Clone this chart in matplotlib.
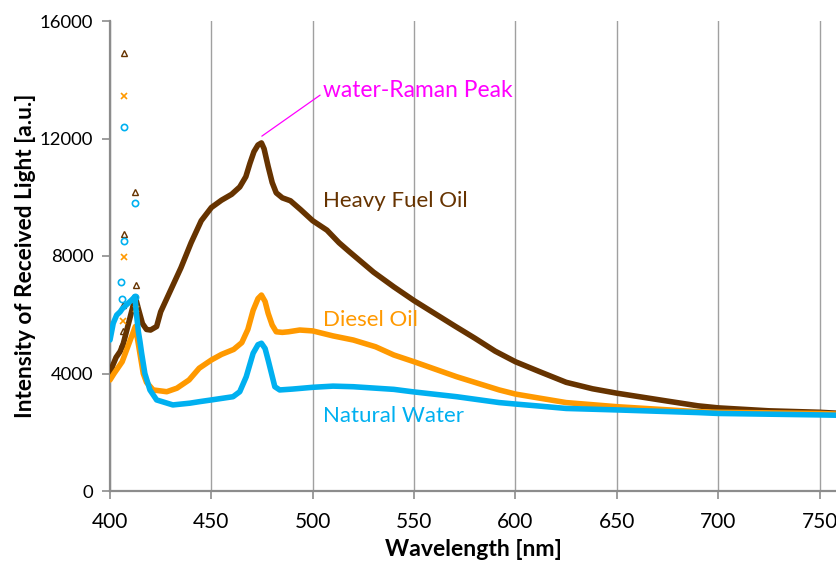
import matplotlib
matplotlib.use("Agg")
import matplotlib.pyplot as plt

plt.rcParams['font.family'] = ['Lato', 'DejaVu Sans']

# ---- data ----
hfo_wl = [400, 401.5, 403, 405, 406.5, 412.5, 414, 416, 418, 420, 423, 425, 430, 435, 440,
          445, 450, 455, 460, 464, 467, 469, 471, 473, 474.7, 476, 478, 480, 482, 485, 489, 494,
          500, 507, 513, 518, 530, 540, 550, 560, 570, 580, 590, 600, 612, 625, 638, 650, 675,
          690, 700, 725, 750, 758]
hfo_val = [4000, 4300, 4550, 4750, 5000, 6600, 6200, 5700, 5500, 5480, 5600, 6100, 6850, 7600, 8450,
           9200, 9650, 9900, 10100, 10350, 10700, 11150, 11550, 11780, 11850, 11650, 11050, 10500, 10150, 9980, 9880, 9580,
           9200, 8880, 8450, 8150, 7450, 6950, 6480, 6050, 5620, 5200, 4760, 4400, 4060, 3700, 3480, 3330, 3060,
           2900, 2830, 2730, 2680, 2650]

diesel_wl = [400, 402, 404, 406, 412.5, 414, 416.4, 418, 421.3, 428, 433, 439, 444, 450, 455, 461,
             465, 468, 470.6, 473, 474.7, 476.5, 478, 480, 482, 485, 488, 493.6, 500, 510, 520, 531, 540, 550, 571, 592, 600,
             612, 625, 650, 690, 700, 750, 758]
diesel_val = [3780, 4000, 4200, 4400, 5600, 5000, 4000, 3700, 3440, 3380, 3500, 3780, 4180, 4460, 4650, 4820,
              5050, 5500, 6150, 6550, 6670, 6450, 6050, 5650, 5420, 5400, 5420, 5480, 5450, 5280, 5140, 4910, 4630, 4400, 3890, 3440, 3300,
              3160, 3010, 2870, 2700, 2680, 2640, 2620]

water_wl = [400, 401.6, 403.3, 405, 406, 412.3, 413, 414, 414.8, 415.6, 417.2, 419.7, 423, 431, 439.4,
            444, 450, 460.7, 464, 467.2, 470.6, 473, 474.7, 476.5, 478, 481.3, 483.7, 490, 500, 510, 520, 540, 549, 571,
            592, 600, 612, 625, 650, 690, 700, 750, 758]
water_val = [5140, 5710, 5990, 6100, 6200, 6610, 6060, 5420, 5080, 4690, 4000, 3440, 3100, 2930, 2990,
             3040, 3100, 3210, 3380, 3890, 4690, 4980, 5030, 4850, 4460, 3550, 3440, 3470, 3530, 3570, 3550, 3460, 3380, 3210,
             3010, 2960, 2890, 2810, 2760, 2670, 2640, 2590, 2580]

# scattered points around the excitation line
hfo_spike_wl = [406.9, 412.3, 406.9, 412.6, 406.6, 406.2, 405.7]
hfo_spike_val = [14920, 10190, 8750, 7010, 6330, 5460, 5000]
diesel_spike_wl = [407.0, 406.9, 406.5, 412.5, 412.8]
diesel_spike_val = [13450, 7980, 5800, 5310, 6200]
water_spike_wl = [407.0, 412.5, 406.9, 405.6, 405.7, 412.4]
water_spike_val = [12400, 9790, 8510, 7120, 6535, 6610]

x_ticks = [400, 450, 500, 550, 600, 650, 700, 750]
y_ticks = [0, 4000, 8000, 12000, 16000]

BROWN = '#663300'
ORANGE = '#FF9900'
BLUE = '#00B0F0'
MAGENTA = '#FF00FF'
GRAY = '#8C8C8C'

fig = plt.figure(figsize=(8.37, 5.63), dpi=100)
ax = fig.add_axes([110 / 837, (563 - 491) / 563, (837 - 110) / 837, 470 / 563])

kw = dict(lw=4.0, solid_capstyle='round', solid_joinstyle='round')
ax.plot(hfo_wl, hfo_val, color=BROWN, zorder=3, **kw)
ax.plot(diesel_wl, diesel_val, color=ORANGE, zorder=4, **kw)
ax.plot(water_wl, water_val, color=BLUE, zorder=5, **kw)

ax.plot(hfo_spike_wl, hfo_spike_val, ls='none', marker='^', ms=4.5, mfc='none', mec=BROWN, mew=1.0, zorder=3)
ax.plot(diesel_spike_wl, diesel_spike_val, ls='none', marker='x', ms=4.5, mec=ORANGE, mew=1.2, zorder=4)
ax.plot(water_spike_wl, water_spike_val, ls='none', marker='o', ms=4.5, mfc='none', mec=BLUE, mew=1.2, zorder=5)

ax.set_xlim(400, 758.6)
ax.set_ylim(0, 16000)
ax.set_xticks(x_ticks)
ax.set_yticks(y_ticks)
ax.set_xticklabels([str(v) for v in x_ticks], fontsize=15)
ax.set_yticklabels([str(v) for v in y_ticks], fontsize=13.3)

ax.grid(axis='x', color='#A0A0A0', lw=1.0)
ax.set_axisbelow(True)
for s in ['top', 'right']:
    ax.spines[s].set_visible(False)
for s in ['left', 'bottom']:
    ax.spines[s].set_color(GRAY)
    ax.spines[s].set_linewidth(1.6)
ax.tick_params(axis='both', direction='out', length=6, width=1.2, color=GRAY)
ax.tick_params(axis='x', pad=9)
ax.tick_params(axis='y', pad=6)

ax.set_xlabel('Wavelength [nm]', fontsize=16.6, fontweight='bold', va='center')
ax.xaxis.set_label_coords(0.5, (491 - 550) / 470)
ax.set_ylabel('Intensity of Received Light [a.u.]', fontsize=16.3, fontweight='bold', va='center')
ax.yaxis.set_label_coords((25 - 110) / 727, 0.5)

ax.text(505, 9870, 'Heavy Fuel Oil', color=BROWN, fontsize=16, va='center', ha='left')
ax.text(505, 5820, 'Diesel Oil', color=ORANGE, fontsize=16, va='center', ha='left')
ax.text(505, 2550, 'Natural Water', color=BLUE, fontsize=16, va='center', ha='left')
ax.annotate('water-Raman Peak', xy=(474.9, 12080), xytext=(505, 13650),
            color=MAGENTA, fontsize=16.4, va='center', ha='left',
            arrowprops=dict(arrowstyle='-', color=MAGENTA, lw=0.9, shrinkA=0, shrinkB=0,
                            relpos=(0, 0.35)))

fig.savefig('out.png', dpi=100)
